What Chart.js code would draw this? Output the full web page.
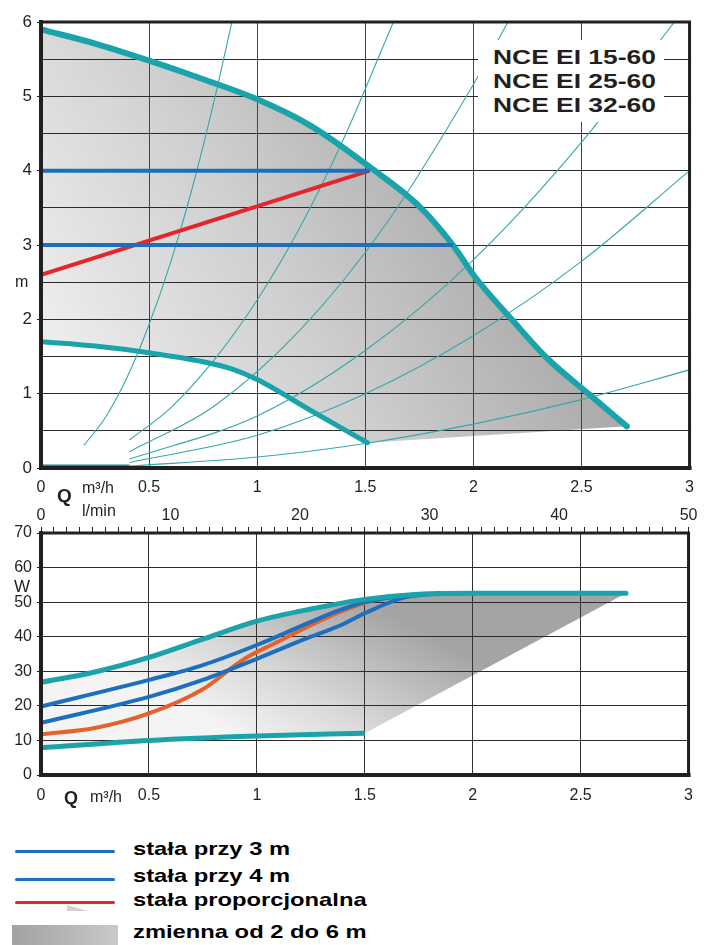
<!DOCTYPE html>
<html>
<head>
<meta charset="utf-8">
<script src="https://cdn.jsdelivr.net/npm/chart.js@4.4.1/dist/chart.umd.min.js"></script>
<style>
  html, body { margin: 0; padding: 0; background: #fff; }
  body { width: 704px; height: 945px; position: relative; overflow: hidden;
         font-family: "Liberation Sans", Arial, sans-serif; color: #231f20; }
  .wrap { position: absolute; left: 0; width: 704px; }
  .t { position: absolute; white-space: nowrap; line-height: 1; }
  .b { font-weight: bold; }
  .nce { position: absolute; left: 478px; top: 40px; width: 186px; height: 82px; background: #fff; }
  .nce div { position: absolute; left: 15px; font: bold 20px "Liberation Sans", Arial, sans-serif;
             line-height: 1; transform: scaleX(1.32); transform-origin: left; white-space: nowrap; }
  .leg { position: absolute; left: 133px; font: bold 19px "Liberation Sans", Arial, sans-serif; line-height: 1;
         transform: scaleX(1.25); transform-origin: left; white-space: nowrap; color: #000; }
  .lline { position: absolute; left: 15px; width: 100px; height: 3px; border-radius: 2px; }
</style>
</head>
<body>
<div class="wrap" style="top:0;height:515px"><canvas id="head" width="704" height="515"></canvas></div>
<div class="wrap" style="top:500px;height:320px"><canvas id="power" width="704" height="320"></canvas></div>

<div class="nce">
  <div style="top:7px">NCE EI 15-60</div>
  <div style="top:31px">NCE EI 25-60</div>
  <div style="top:55px">NCE EI 32-60</div>
</div>

<div class="t" style="left:15px;top:274px;font-size:16px">m</div>
<div class="t b" style="left:57px;top:486px;font-size:19px">Q</div>
<div class="t" style="left:82px;top:480px;font-size:16px">m³/h</div>
<div class="t" style="left:82px;top:503px;font-size:16px">l/min</div>
<div class="t" style="left:14px;top:578px;font-size:17px">W</div>
<div class="t b" style="left:64px;top:789px;font-size:18px">Q</div>
<div class="t" style="left:90px;top:789px;font-size:16px">m³/h</div>

<div class="lline" style="top:850px;background:#1b6fbe"></div>
<div class="lline" style="top:878px;background:#1b6fbe"></div>
<div class="lline" style="top:901px;background:#e4262c"></div>
<div style="position:absolute;left:67px;top:905px;width:21px;height:6px;background:#d2d2d2;clip-path:polygon(0 0,100% 100%,0 100%)"></div>
<div style="position:absolute;left:12px;top:925px;width:106px;height:20px;background:linear-gradient(to right,#a2a2a2,#c9c9c9)"></div>
<div class="leg" style="top:839px">stała przy 3 m</div>
<div class="leg" style="top:866px">stała przy 4 m</div>
<div class="leg" style="top:890px">stała proporcjonalna</div>
<div class="leg" style="top:922px">zmienna od 2 do 6 m</div>

<script>
/* ── Data ───────────────────────────────────────────────────────────── */
const Q_TICKS    = ['0', '0.5', '1', '1.5', '2', '2.5', '3'];
const H_TICKS    = ['0', '1', '2', '3', '4', '5', '6'];
const P_TICKS    = ['0', '10', '20', '30', '40', '50', '60', '70'];
const LMIN_TICKS = ['0', '10', '20', '30', '40', '50'];

// head H [m] vs flow Q [m3/h]
const qHmax = [0, 0.25, 0.5, 0.75, 1.0, 1.25, 1.52, 1.75, 1.905, 2.005, 2.18, 2.34, 2.54, 2.71];
const hHmax = [5.9, 5.71, 5.48, 5.23, 4.96, 4.6, 4.05, 3.52, 3.0, 2.58, 1.99, 1.48, 0.98, 0.56];
const qHmin = [0, 0.25, 0.5, 0.75, 0.885, 1.0, 1.25, 1.51];
const hHmin = [1.7, 1.64, 1.55, 1.43, 1.33, 1.19, 0.77, 0.34];
const qHconst4 = [0, 1.52];
const hHconst4 = [4, 4];
const qHconst3 = [0, 1.905];
const hHconst3 = [3, 3];
const qHprop = [0, 1.52];
const hHprop = [2.6, 4.0];
const qHbase = [0, 0.41];
const hHbase = [0.03, 0.03];

// system curves
const qSysA = [0.2, 0.3, 0.4, 0.5, 0.6, 0.7, 0.8, 0.883];
const hSysA = [0.31, 0.69, 1.23, 1.93, 2.77, 3.77, 4.93, 6.0];
const qSysB = [0.41, 0.6, 0.8, 1.0, 1.2, 1.4, 1.63];
const hSysB = [0.38, 0.81, 1.45, 2.26, 3.25, 4.43, 6.0];
const qSysC = [0.41, 0.8, 1.2, 1.6, 2.0, 2.16];
const hSysC = [0.22, 0.83, 1.86, 3.3, 5.16, 6.0];
const qSysD = [0.41, 1.0, 1.5, 2.0, 2.5, 2.93];
const hSysD = [0.12, 0.7, 1.58, 2.8, 4.38, 6.0];
const qSysE = [0.41, 1.0, 1.5, 2.0, 2.5, 3.0];
const hSysE = [0.075, 0.44, 1.0, 1.78, 2.78, 4.0];
const qSysF = [0.41, 1.0, 1.5, 2.0, 2.5, 3.0];
const hSysF = [0.025, 0.147, 0.33, 0.59, 0.92, 1.32];

// power P [W] vs flow Q [m3/h]
const qPmax = [0, 0.25, 0.5, 0.75, 1.0, 1.25, 1.5, 1.75, 2.0, 2.5, 2.71];
const pPmax = [26.8, 29.8, 34, 39.3, 44.5, 48, 50.8, 52.3, 52.6, 52.6, 52.6];
const qPmin = [0, 0.5, 1.0, 1.5];
const pPmin = [7.9, 10, 11.3, 12.1];
const qPconst4 = [0, 0.5, 0.75, 1.0, 1.25, 1.38, 1.5, 1.7, 1.85];
const pPconst4 = [19.8, 27.5, 31.8, 37.6, 44.3, 47.6, 50.0, 52.0, 52.6];
const qPconst3 = [0, 0.5, 0.75, 1.0, 1.25, 1.38, 1.5, 1.68, 1.85];
const pPconst3 = [15.1, 22.6, 27.5, 33.6, 40, 43.1, 46.8, 51.3, 52.6];
const qPprop = [0, 0.25, 0.5, 0.75, 0.94, 1.1, 1.25, 1.38, 1.5, 1.6];
const pPprop = [11.8, 13.6, 17.8, 24.8, 33.5, 38.6, 43.3, 47.0, 49.8, 51.3];

/* ── Style ──────────────────────────────────────────────────────────── */
const INK = '#231f20';
const TEAL = '#1aa3aa';
const BLUE = '#1b6fbe';
const RED = '#e4262c';
const ORANGE = '#e5622c';
const SYS = '#35a8a8';
const FONT = '"Liberation Sans", Arial, sans-serif';

Chart.defaults.font.family = FONT;
Chart.defaults.color = INK;

function pts(xs, ys) { return xs.map((x, i) => ({ x, y: ys[i] })); }

function curve(xs, ys, color, width, extra) {
  return Object.assign({
    data: pts(xs, ys),
    borderColor: color,
    borderWidth: width,
    pointRadius: 0,
    fill: false,
    cubicInterpolationMode: 'monotone',
    borderCapStyle: 'round',
    borderJoinStyle: 'round',
  }, extra || {});
}

// invisible lower edge of the shaded area: min curve, then straight to the end of the max curve
function edge(qMin, vMin, qMax, vMax) {
  return curve([...qMin, qMax[qMax.length - 1]], [...vMin, vMax[vMax.length - 1]], 'rgba(0,0,0,0)', 1,
    { cubicInterpolationMode: 'default', tension: 0 });
}

const framePlugin = {
  id: 'frame',
  afterDraw(chart) {
    const { ctx, chartArea: a } = chart;
    ctx.save();
    ctx.strokeStyle = INK;
    ctx.lineCap = 'square';
    ctx.lineWidth = 3;
    ctx.beginPath(); ctx.moveTo(a.left, a.top); ctx.lineTo(a.right, a.top); ctx.lineTo(a.right, a.bottom); ctx.stroke();
    ctx.lineWidth = 4;
    ctx.beginPath(); ctx.moveTo(a.left, a.top); ctx.lineTo(a.left, a.bottom); ctx.lineTo(a.right, a.bottom); ctx.stroke();
    ctx.restore();
  }
};

function gradient(c, x0, y0, x1, y1, stops) {
  const chart = c.chart;
  if (!chart.chartArea) return '#cccccc';
  const sx = chart.scales.x, sy = chart.scales.y;
  const g = chart.ctx.createLinearGradient(
    sx.getPixelForValue(x0), sy.getPixelForValue(y0),
    sx.getPixelForValue(x1), sy.getPixelForValue(y1));
  stops.forEach(([o, col]) => g.addColorStop(o, col));
  return g;
}

const isInt = v => Math.abs(v - Math.round(v)) < 1e-6;

/* ── Chart 1: head ──────────────────────────────────────────────────── */
new Chart(document.getElementById('head'), {
  type: 'line',
  data: {
    datasets: [
      curve(qHconst4, hHconst4, BLUE, 4, { cubicInterpolationMode: 'default', borderCapStyle: 'butt' }),
      curve(qHconst3, hHconst3, BLUE, 4, { cubicInterpolationMode: 'default', borderCapStyle: 'butt' }),
      curve(qHprop, hHprop, RED, 4, { cubicInterpolationMode: 'default', borderCapStyle: 'butt' }),
      curve(qHmax, hHmax, TEAL, 6, {
        fill: { target: 5 },
        backgroundColor: c => gradient(c, 0.0, 0.8, 2.4, 4.8,
          [[0, '#f3f3f3'], [0.45, '#cfcfcf'], [1, '#9a9a9a']]),
      }),
      curve(qHmin, hHmin, TEAL, 5),
      edge(qHmin, hHmin, qHmax, hHmax),
      curve(qSysA, hSysA, SYS, 1.1),
      curve(qSysB, hSysB, SYS, 1.1),
      curve(qSysC, hSysC, SYS, 1.1),
      curve(qSysD, hSysD, SYS, 1.1),
      curve(qSysE, hSysE, SYS, 1.1),
      curve(qSysF, hSysF, SYS, 1.1),
      curve(qHbase, hHbase, '#168a90', 2.5, { borderCapStyle: 'butt' }),
    ]
  },
  options: {
    responsive: false,
    animation: false,
    devicePixelRatio: 1,
    layout: { padding: { left: 0, right: 11, top: 22, bottom: 0 } },
    plugins: {
      legend: { display: false },
      tooltip: { enabled: false },
      filler: { drawTime: 'beforeDraw' },
    },
    scales: {
      x: {
        type: 'linear', min: 0, max: 3,
        afterFit: s => { s.height = 47; },
        border: { display: false },
        grid: { color: '#444', lineWidth: 1, drawTicks: false },
        ticks: { stepSize: 0.5, padding: 10, maxRotation: 0, autoSkip: false,
                 font: { size: 16 }, color: INK,
                 callback: v => Q_TICKS[Math.round(v * 2)] },
      },
      y: {
        type: 'linear', min: 0, max: 6,
        afterFit: s => { s.width = 41; },
        border: { display: false },
        grid: { color: '#2b2b2b', lineWidth: 1, tickLength: 4,
                tickColor: c => (isInt(c.tick.value) ? INK : 'rgba(0,0,0,0)') },
        ticks: { stepSize: 0.5, padding: 5, autoSkip: false, font: { size: 17 }, color: INK,
                 callback: v => (isInt(v) ? H_TICKS[Math.round(v)] : '') },
      }
    }
  },
  plugins: [framePlugin]
});

/* ── Chart 2: power ─────────────────────────────────────────────────── */
new Chart(document.getElementById('power'), {
  type: 'line',
  data: {
    datasets: [
      curve(qPmax, pPmax, TEAL, 5, {
        fill: { target: 5 },
        backgroundColor: c => gradient(c, 1.0, 8, 1.4, 54,
          [[0, '#f4f4f4'], [0.4, '#d8d8d8'], [1, '#a4a4a4']]),
      }),
      curve(qPconst4, pPconst4, BLUE, 4),
      curve(qPconst3, pPconst3, BLUE, 4),
      curve(qPprop, pPprop, ORANGE, 4),
      curve(qPmin, pPmin, TEAL, 5, { borderCapStyle: 'butt' }),
      edge(qPmin, pPmin, qPmax, pPmax),
    ]
  },
  options: {
    responsive: false,
    animation: false,
    devicePixelRatio: 1,
    layout: { padding: { left: 0, right: 11, top: 0, bottom: 0 } },
    plugins: {
      legend: { display: false },
      tooltip: { enabled: false },
      filler: { drawTime: 'beforeDraw' },
    },
    scales: {
      x: {
        type: 'linear', position: 'bottom', min: 0, max: 3,
        afterFit: s => { s.height = 45; },
        border: { display: false },
        grid: { color: '#333', lineWidth: 1, drawTicks: false },
        ticks: { stepSize: 0.5, padding: 11, maxRotation: 0, autoSkip: false,
                 font: { size: 16 }, color: INK,
                 callback: v => Q_TICKS[Math.round(v * 2)] },
      },
      lmin: {
        type: 'linear', position: 'top', min: 0, max: 50,
        afterFit: s => { s.height = 33; },
        border: { display: false },
        grid: { drawOnChartArea: false, drawTicks: true, tickLength: 6, color: INK, lineWidth: 1 },
        ticks: { stepSize: 1, padding: 2, maxRotation: 0, autoSkip: false,
                 font: { size: 16 }, color: INK,
                 callback: v => (v % 10 === 0 ? LMIN_TICKS[v / 10] : '') },
      },
      y: {
        type: 'linear', min: 0, max: 70,
        afterFit: s => { s.width = 41; },
        border: { display: false },
        grid: { color: '#2b2b2b', lineWidth: 1, tickLength: 4, tickColor: INK },
        ticks: { stepSize: 10, padding: 5, autoSkip: false, font: { size: 16 }, color: INK,
                 callback: v => P_TICKS[Math.round(v / 10)] },
      }
    }
  },
  plugins: [framePlugin]
});
</script>
</body>
</html>
